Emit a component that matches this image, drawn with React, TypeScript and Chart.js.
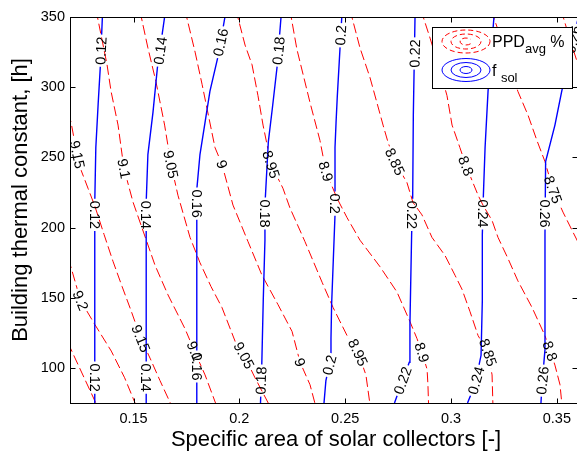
import React, { useEffect, useRef } from 'react';
import { Chart, registerables } from 'chart.js';

Chart.register(...registerables);

const FONT = '"Liberation Sans", Arial, Helvetica, sans-serif';
const BLUE = '#0000ff';
const RED = '#ff0000';

// ---- axes ----
const xRange = [0.12, 0.36];
const yRange = [75, 350];
const xTickValues = [0.15, 0.2, 0.25, 0.3, 0.35];
const xTickLabels = ['0.15', '0.2', '0.25', '0.3', '0.35'];
const yTickValues = [100, 150, 200, 250, 300, 350];
const yTickLabels = ['100', '150', '200', '250', '300', '350'];
const xTitle = 'Specific area of solar collectors [-]';
const yTitle = 'Building thermal constant, [h]';

// ---- f_sol contour lines [x, y] ----
const fsolLevels = ['0.12', '0.14', '0.16', '0.18', '0.2', '0.22', '0.24', '0.26'];
const fsol012 = [[0.1317, 75], [0.1317, 218], [0.1322, 257], [0.1333, 288], [0.1343, 314], [0.1353, 350]];
const fsol014 = [[0.1560, 75], [0.1560, 218], [0.1568, 252], [0.1592, 282], [0.1613, 314], [0.1647, 350]];
const fsol016 = [[0.1799, 75], [0.1799, 227], [0.1814, 252], [0.1838, 275], [0.1861, 297], [0.1901, 323], [0.1932, 350]];
const fsol018 = [[0.2100, 75], [0.2106, 102], [0.2113, 148], [0.2121, 191], [0.2121, 216], [0.2137, 261], [0.2156, 285], [0.2178, 314], [0.2197, 350]];
const fsol020 = [[0.2400, 75], [0.2409, 91], [0.2431, 106], [0.2433, 121], [0.2436, 145], [0.2444, 177], [0.2452, 209], [0.2452, 257], [0.2457, 275], [0.2463, 294], [0.2472, 318], [0.2484, 350]];
const fsol022 = [[0.2733, 75], [0.2764, 88], [0.2803, 104], [0.2806, 131], [0.2814, 195], [0.2819, 221], [0.2822, 280], [0.2830, 350]];
const fsol024 = [[0.3078, 75], [0.3113, 88], [0.3142, 109], [0.3148, 148], [0.3148, 195], [0.3153, 223], [0.3161, 257], [0.3175, 297], [0.3203, 350]];
const fsol026 = [[0.3425, 75], [0.3430, 88], [0.3444, 113], [0.3444, 195], [0.3447, 247], [0.3491, 273], [0.3523, 297], [0.3567, 327], [0.3602, 350]];
const fsolLines = [fsol012, fsol014, fsol016, fsol018, fsol020, fsol022, fsol024, fsol026];

// ---- PPD_avg contour lines [x, y] ----
const ppdLevels = ['9.25', '9.2', '9.15', '9.1', '9.05', '9', '8.95', '8.9', '8.85', '8.8', '8.75', '8.7'];
const ppd925 = [[0.1190, 118], [0.1322, 75]];
const ppd920 = [[0.1191, 178], [0.1206, 171], [0.1250, 148], [0.1317, 131], [0.1395, 112], [0.1458, 93], [0.1510, 74]];
const ppd915 = [[0.1191, 282], [0.1205, 275], [0.1233, 252], [0.1252, 241], [0.1285, 228], [0.1318, 215], [0.1361, 195], [0.1403, 176], [0.1446, 158], [0.1488, 141], [0.1535, 121], [0.1578, 107], [0.1625, 91], [0.1677, 74]];
const ppd910 = [[0.1323, 355], [0.1351, 334], [0.1375, 316], [0.1394, 297], [0.1427, 273], [0.1455, 242], [0.1498, 218], [0.1602, 173], [0.1663, 152], [0.1743, 128], [0.1791, 111], [0.1838, 95], [0.1890, 74]];
const ppd905 = [[0.1531, 354], [0.1568, 328], [0.1606, 304], [0.1647, 273], [0.1677, 245], [0.1710, 223], [0.1767, 193], [0.1814, 175], [0.1866, 158], [0.1918, 143], [0.1980, 119], [0.2022, 109], [0.2074, 93], [0.2140, 74]];
const ppd900 = [[0.1743, 355], [0.1791, 325], [0.1824, 302], [0.1847, 285], [0.1885, 257], [0.1918, 245], [0.1970, 216], [0.2041, 190], [0.2107, 166], [0.2183, 145], [0.2249, 126], [0.2287, 104], [0.2334, 88], [0.2362, 72]];
const ppd895 = [[0.1984, 355], [0.2027, 330], [0.2060, 316], [0.2088, 294], [0.2112, 273], [0.2150, 245], [0.2206, 228], [0.2239, 214], [0.2310, 190], [0.2391, 161], [0.2443, 143], [0.2509, 123], [0.2561, 111], [0.2598, 95], [0.2620, 71]];
const ppd890 = [[0.2239, 355], [0.2272, 327], [0.2334, 289], [0.2381, 262], [0.2409, 240], [0.2461, 221], [0.2509, 207], [0.2570, 191], [0.2665, 172], [0.2745, 154], [0.2806, 133], [0.2839, 121], [0.2863, 111], [0.2887, 99], [0.2891, 88], [0.2894, 74]];
const ppd885 = [[0.2523, 355], [0.2570, 328], [0.2617, 307], [0.2650, 289], [0.2679, 273], [0.2702, 261], [0.2735, 247], [0.2792, 232], [0.2820, 218], [0.2863, 209], [0.2910, 193], [0.2972, 180], [0.3019, 166], [0.3052, 156], [0.3090, 140], [0.3128, 123], [0.3175, 111], [0.3194, 95], [0.3198, 74]];
const ppd880 = [[0.2858, 355], [0.2901, 335], [0.2948, 312], [0.2981, 294], [0.3005, 273], [0.3042, 257], [0.3071, 244], [0.3128, 223], [0.3151, 216], [0.3194, 205], [0.3222, 193], [0.3269, 178], [0.3316, 162], [0.3383, 143], [0.3444, 123], [0.3468, 112], [0.3491, 102], [0.3515, 88], [0.3524, 74]];
const ppd875 = [[0.3189, 355], [0.3255, 327], [0.3316, 297], [0.3364, 280], [0.3406, 262], [0.3444, 247], [0.3482, 227], [0.3529, 211], [0.3572, 198], [0.3619, 184]];
const ppd870 = [[0.3520, 355], [0.3562, 334], [0.3609, 312]];
const ppdLines = [ppd925, ppd920, ppd915, ppd910, ppd905, ppd900, ppd895, ppd890, ppd885, ppd880, ppd875, ppd870];

// ---- inline contour labels [text, x, y, angle(deg, ccw)] ----
const fsolLabels = [
  ['0.12', 0.1346, 326, 87], ['0.12', 0.1317, 209, -90], ['0.12', 0.1317, 93, -90],
  ['0.14', 0.1626, 326, 82], ['0.14', 0.1560, 209, -90], ['0.14', 0.1560, 93, -90],
  ['0.16', 0.1911, 332, 78], ['0.16', 0.1799, 217, -90], ['0.16', 0.1799, 101, -90],
  ['0.18', 0.2185, 326, 84], ['0.18', 0.2121, 210, -90], ['0.18', 0.2102, 91, 88],
  ['0.2', 0.2479, 337, 86], ['0.2', 0.2452, 217, -90], ['0.2', 0.2425, 102, 76],
  ['0.22', 0.2829, 324, 89], ['0.22', 0.2817, 209, -90], ['0.22', 0.2771, 91, 70],
  ['0.24', 0.3150, 210, -90], ['0.24', 0.3118, 91, 74],
  ['0.26', 0.3444, 210, -90], ['0.26', 0.3432, 91, 84], ['0.26', 0.3577, 334, 77],
];
const ppdLabels = [
  ['9.2', 0.1250, 148, -68],
  ['9.15', 0.1235, 252, -78], ['9.15', 0.1535, 121, -68],
  ['9.1', 0.1455, 242, -79], ['9.1', 0.1789, 112, -67],
  ['9.05', 0.1677, 245, -79], ['9.05', 0.2022, 109, -62],
  ['9', 0.1918, 245, -72], ['9', 0.2287, 104, -72],
  ['8.95', 0.2150, 245, -72], ['8.95', 0.2561, 111, -65],
  ['8.9', 0.2409, 240, -74], ['8.9', 0.2863, 111, -73],
  ['8.85', 0.2735, 247, -65], ['8.85', 0.3175, 111, -71],
  ['8.8', 0.3071, 244, -69], ['8.8', 0.3468, 112, -72],
  ['8.75', 0.3482, 227, -70],
];

// ---- legend ----
const legendEntries = [
  { main: 'PPD', sub: 'avg', tail: ' %', color: RED, dashed: true },
  { main: 'f ', sub: 'sol', tail: '', color: BLUE, dashed: false },
];

const allLabels = [
  ...fsolLabels.map((l) => ({ kind: 'fsol', text: l[0], x: l[1], y: l[2], ang: l[3] })),
  ...ppdLabels.map((l) => ({ kind: 'ppd', text: l[0], x: l[1], y: l[2], ang: l[3] })),
];

const LABEL_FONT = `14.5px ${FONT}`;

function labelCorners(chart: any, l: any) {
  const ctx = chart.ctx;
  const px = chart.scales.x.getPixelForValue(l.x);
  const py = chart.scales.y.getPixelForValue(l.y);
  ctx.font = LABEL_FONT;
  const w = ctx.measureText(l.text).width + 4;
  const h = 12;
  const a = (-l.ang * Math.PI) / 180;
  const c = Math.cos(a);
  const s = Math.sin(a);
  return [
    [-w / 2, -h / 2],
    [w / 2, -h / 2],
    [w / 2, h / 2],
    [-w / 2, h / 2],
  ].map(([lx, ly]) => [px + lx * c - ly * s, py + lx * s + ly * c]);
}

const contourPlugin = {
  id: 'contourDecor',
  beforeDatasetDraw(chart: any, args: any) {
    const ds = chart.data.datasets[args.index];
    const ctx = chart.ctx;
    ctx.save();
    const labs = allLabels.filter((l) => l.kind === ds.kind && l.text === ds.level);
    if (labs.length) {
      ctx.beginPath();
      ctx.rect(0, 0, chart.width, chart.height);
      labs.forEach((l) => {
        const p = labelCorners(chart, l);
        ctx.moveTo(p[0][0], p[0][1]);
        ctx.lineTo(p[1][0], p[1][1]);
        ctx.lineTo(p[2][0], p[2][1]);
        ctx.lineTo(p[3][0], p[3][1]);
        ctx.closePath();
      });
      ctx.clip('evenodd');
    }
  },
  afterDatasetDraw(chart: any) {
    chart.ctx.restore();
  },
  afterDraw(chart: any) {
    const { ctx, chartArea: ca, scales } = chart;
    const xs = scales.x;
    const ys = scales.y;

    // contour labels
    ctx.save();
    ctx.font = LABEL_FONT;
    ctx.fillStyle = '#000';
    ctx.textAlign = 'center';
    ctx.textBaseline = 'middle';
    allLabels.forEach((l) => {
      const px = xs.getPixelForValue(l.x);
      const py = ys.getPixelForValue(l.y);
      ctx.save();
      ctx.translate(px, py);
      ctx.rotate((-l.ang * Math.PI) / 180);
      ctx.fillText(l.text, 0, 1);
      ctx.restore();
    });
    ctx.restore();

    // axes box + inward ticks
    ctx.save();
    ctx.strokeStyle = '#000';
    ctx.lineWidth = 1;
    const L = Math.round(ca.left) + 0.5;
    const R = Math.round(ca.right) - 0.5;
    const T = Math.round(ca.top) + 0.5;
    const B = Math.round(ca.bottom) + 0.5;
    ctx.strokeRect(L, T, R - L, B - T);
    ctx.beginPath();
    xTickValues.forEach((v) => {
      const px = Math.round(xs.getPixelForValue(v)) + 0.5;
      ctx.moveTo(px, B);
      ctx.lineTo(px, B - 5);
      ctx.moveTo(px, T);
      ctx.lineTo(px, T + 5);
    });
    yTickValues.forEach((v) => {
      const py = Math.round(ys.getPixelForValue(v)) + 0.5;
      ctx.moveTo(L, py);
      ctx.lineTo(L + 5, py);
      ctx.moveTo(R, py);
      ctx.lineTo(R - 5, py);
    });
    ctx.stroke();
    ctx.restore();

    // legend
    ctx.save();
    const lx = 432;
    const ly = 27;
    const lw = 140;
    const lh = 61;
    ctx.fillStyle = '#fff';
    ctx.fillRect(lx, ly, lw, lh);
    ctx.strokeStyle = '#000';
    ctx.lineWidth = 1;
    ctx.strokeRect(lx + 0.5, ly + 0.5, lw, lh);
    legendEntries.forEach((e, i) => {
      const cx = lx + 34;
      const cy = ly + 14.5 + i * 28.5;
      ctx.strokeStyle = e.color;
      ctx.lineWidth = 1;
      ctx.setLineDash(e.dashed ? [5, 3] : []);
      [[24, 11.5], [15, 7.5], [6, 3.5]].forEach(([rx, ry], k) => {
        ctx.beginPath();
        if (e.dashed && k === 2) ctx.ellipse(cx, cy, rx, ry, 0, 0.7, 2 * Math.PI - 0.7);
        else ctx.ellipse(cx, cy, rx, ry, 0, 0, 2 * Math.PI);
        ctx.stroke();
      });
      ctx.setLineDash([]);
      ctx.fillStyle = '#000';
      ctx.textAlign = 'left';
      ctx.textBaseline = 'alphabetic';
      let tx = lx + 60;
      const by = ly + 20 + i * 29;
      ctx.font = `16px ${FONT}`;
      ctx.fillText(e.main, tx, by);
      tx += ctx.measureText(e.main).width;
      ctx.font = `13px ${FONT}`;
      ctx.fillText(e.sub, tx, by + 6);
      tx += ctx.measureText(e.sub).width;
      ctx.font = `16px ${FONT}`;
      if (e.tail) ctx.fillText(e.tail, tx, by);
    });
    ctx.restore();

    // axis titles
    ctx.save();
    ctx.fillStyle = '#000';
    ctx.font = `22px ${FONT}`;
    ctx.textAlign = 'center';
    ctx.textBaseline = 'alphabetic';
    ctx.fillText(xTitle, 336, 446);
    ctx.translate(27, 200);
    ctx.rotate(-Math.PI / 2);
    ctx.fillText(yTitle, 0, 0);
    ctx.restore();
  },
};

export default function App() {
  const ref = useRef<HTMLCanvasElement | null>(null);

  useEffect(() => {
    if (!ref.current) return;
    const datasets: any[] = [];
    fsolLevels.forEach((lv, i) => {
      datasets.push({
        label: 'f_sol ' + lv,
        kind: 'fsol',
        level: lv,
        data: fsolLines[i].map(([x, y]) => ({ x, y })),
        borderColor: BLUE,
        backgroundColor: BLUE,
        borderWidth: 1.4,
        showLine: true,
        pointRadius: 0,
        fill: false,
        tension: 0,
      });
    });
    ppdLevels.forEach((lv, i) => {
      datasets.push({
        label: 'PPD_avg ' + lv,
        kind: 'ppd',
        level: lv,
        data: ppdLines[i].map(([x, y]) => ({ x, y })),
        borderColor: RED,
        backgroundColor: RED,
        borderWidth: 1,
        borderDash: [10, 4],
        showLine: true,
        pointRadius: 0,
        fill: false,
        tension: 0,
      });
    });

    const tickFont = { family: FONT, size: 14.5 };
    const chart = new Chart(ref.current, {
      type: 'scatter',
      data: { datasets },
      options: {
        animation: false,
        responsive: false,
        devicePixelRatio: 1,
        events: [],
        layout: { padding: { top: 17, right: 2, left: 0, bottom: 0 } },
        plugins: { legend: { display: false }, tooltip: { enabled: false } },
        scales: {
          x: {
            type: 'linear',
            min: xRange[0],
            max: xRange[1],
            grid: { display: false, drawTicks: false },
            border: { display: false },
            ticks: {
              font: tickFont,
              color: '#000',
              padding: 7,
              maxRotation: 0,
              minRotation: 0,
              autoSkip: false,
              callback: (_v: any, i: number) => xTickLabels[i],
            },
            afterBuildTicks: (axis: any) => {
              axis.ticks = xTickValues.map((v) => ({ value: v }));
            },
            afterFit: (axis: any) => {
              axis.height = 52;
            },
          },
          y: {
            type: 'linear',
            min: yRange[0],
            max: yRange[1],
            grid: { display: false, drawTicks: false },
            border: { display: false },
            ticks: {
              font: tickFont,
              color: '#000',
              padding: 5,
              autoSkip: false,
              callback: (_v: any, i: number) => yTickLabels[i],
            },
            afterBuildTicks: (axis: any) => {
              axis.ticks = yTickValues.map((v) => ({ value: v }));
            },
            afterFit: (axis: any) => {
              axis.width = 70;
            },
          },
        },
      } as any,
      plugins: [contourPlugin as any],
    });
    return () => chart.destroy();
  }, []);

  return (
    <div
      style={{
        position: 'fixed',
        left: 0,
        top: 0,
        width: 577,
        height: 455,
        overflow: 'hidden',
        background: '#fff',
      }}
    >
      <canvas ref={ref} width={580} height={455} style={{ display: 'block' }} />
    </div>
  );
}
